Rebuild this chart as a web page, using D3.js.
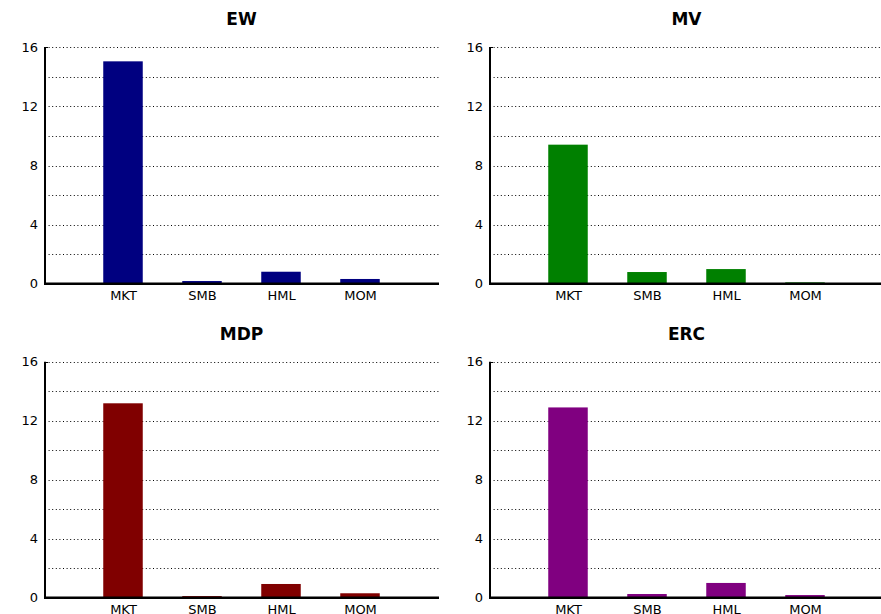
<!DOCTYPE html>
<html><head><meta charset="utf-8">
<script src="https://cdn.jsdelivr.net/npm/d3@7"></script>
<style>
html,body{margin:0;padding:0;background:#fff;}
svg{display:block;}
text{font-family:"DejaVu Sans",sans-serif;}
</style></head>
<body>
<script>
const categories = ["MKT","SMB","HML","MOM"];
const panelTitles = ["EW","MV","MDP","ERC"];
const ewValues  = [15.05, 0.18, 0.81, 0.32];
const mvValues  = [9.41, 0.79, 0.99, 0.09];
const mdpValues = [13.18, 0.11, 0.93, 0.30];
const ercValues = [12.9, 0.25, 1.0, 0.18];
const panelColors = ["#000080","#008000","#800000","#800080"];
const yTicks = [0, 4, 8, 12, 16];
const gridTicks = [2, 4, 6, 8, 10, 12, 14, 16];

const seriesList = [ewValues, mvValues, mdpValues, ercValues];
const W = 881, H = 614;
const svg = d3.select("body").append("svg").attr("width", W).attr("height", H);

const layouts = [
  {x0: 44, x1: 439, yTop: 47.3, yBot: 283.7, titleY: 25},
  {x0: 489, x1: 884, yTop: 47.3, yBot: 283.7, titleY: 25},
  {x0: 44, x1: 439, yTop: 361.7, yBot: 597.7, titleY: 340},
  {x0: 489, x1: 884, yTop: 361.7, yBot: 597.7, titleY: 340}
];

seriesList.forEach((vals, p) => {
  const L = layouts[p];
  const g = svg.append("g");
  const x = d3.scaleLinear().domain([0, categories.length + 1]).range([L.x0, L.x1]);
  const y = d3.scaleLinear().domain([0, 16]).range([L.yBot, L.yTop]);

  // grid
  g.selectAll("line.grid").data(gridTicks).join("line")
    .attr("x1", L.x0 + 1).attr("x2", L.x1)
    .attr("y1", d => Math.round(y(d)) + 0.5).attr("y2", d => Math.round(y(d)) + 0.5)
    .attr("stroke", "#000").attr("stroke-width", 1)
    .attr("stroke-dasharray", "1,2.6");

  // bars
  const bw = x(0.5) - x(0);
  g.selectAll("rect.bar").data(vals).join("rect")
    .attr("x", (d, i) => x(i + 1) - bw / 2)
    .attr("width", bw)
    .attr("y", d => y(d))
    .attr("height", d => y(0) - y(d))
    .attr("fill", panelColors[p]);

  // y axis
  const yAxis = d3.axisLeft(y).tickValues(yTicks).tickSize(0).tickPadding(6);
  const ya = g.append("g").attr("transform", `translate(${L.x0},0)`).call(yAxis);
  ya.select(".domain").remove();
  ya.selectAll("text").attr("font-size", 13).attr("fill", "#000")
    .attr("font-family", "DejaVu Sans, sans-serif");
  g.append("line").attr("x1", L.x0 + 1).attr("x2", L.x0 + 1)
    .attr("y1", y(16)).attr("y2", y(0) + 1)
    .attr("stroke", "#000").attr("stroke-width", 2);
  g.append("line").attr("x1", L.x0).attr("x2", L.x0 + 4)
    .attr("y1", Math.round(y(16)) + 0.5).attr("y2", Math.round(y(16)) + 0.5)
    .attr("stroke", "#000").attr("stroke-width", 1);

  // x axis
  const xAxis = d3.axisBottom(x).tickValues(d3.range(1, categories.length + 1))
    .tickFormat(i => categories[i - 1]).tickSize(0).tickPadding(7);
  const xa = g.append("g").attr("transform", `translate(0,${y(0)})`).call(xAxis);
  xa.select(".domain").remove();
  xa.selectAll("text").attr("font-size", 13).attr("fill", "#000")
    .attr("font-family", "DejaVu Sans, sans-serif");
  g.append("line").attr("x1", L.x0).attr("x2", L.x1)
    .attr("y1", y(0)).attr("y2", y(0))
    .attr("stroke", "#000").attr("stroke-width", 2.4);

  // title
  g.append("text").attr("x", (L.x0 + L.x1) / 2).attr("y", L.titleY)
    .attr("text-anchor", "middle").attr("font-size", 17).attr("font-weight", "bold")
    .attr("font-family", "Liberation Sans, Arial, sans-serif")
    .text(panelTitles[p]);
});
</script>
</body></html>
